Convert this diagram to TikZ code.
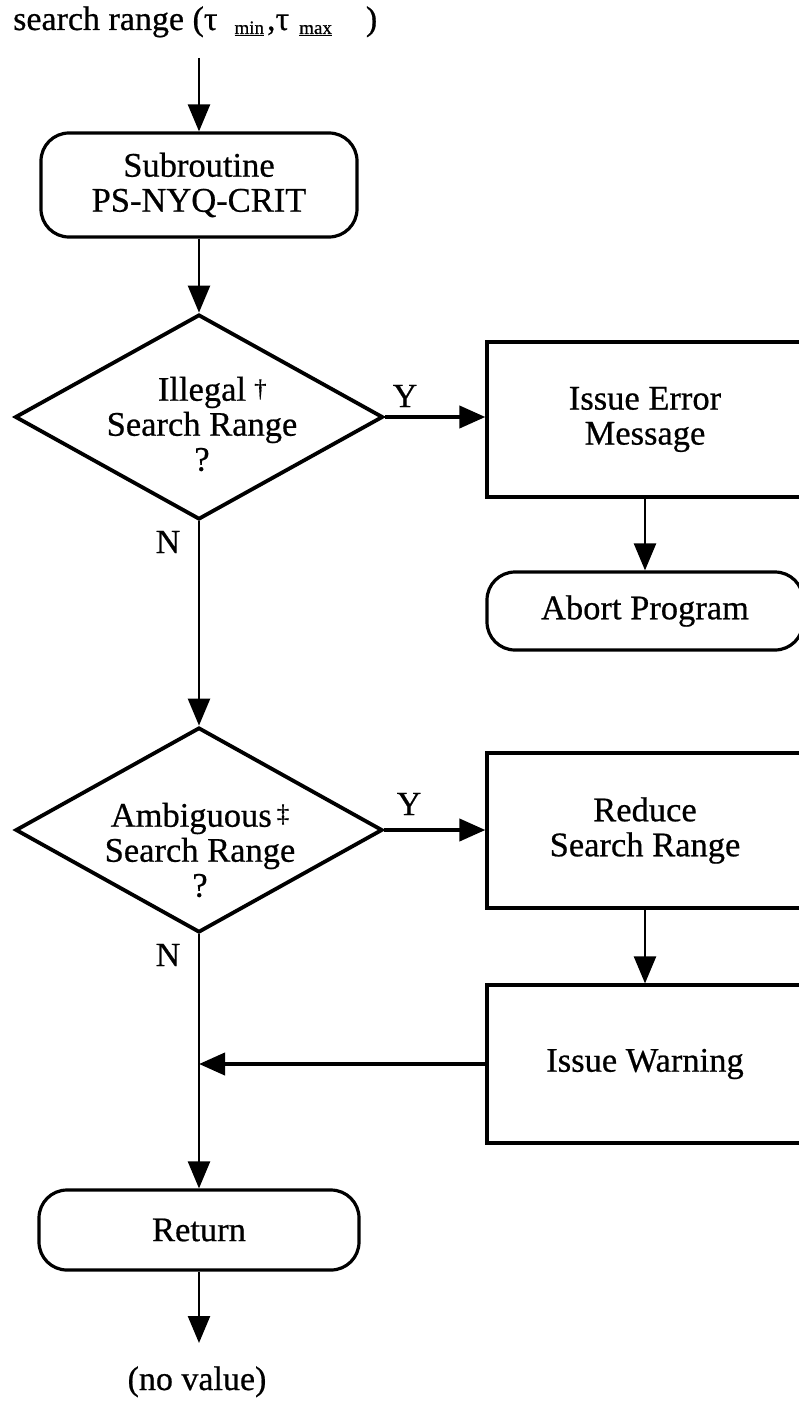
\documentclass[tikz,border=0pt]{standalone}
\usepackage{fontspec}
\setmainfont[FakeBold=0.6]{Liberation Serif}
\usetikzlibrary{shapes.geometric,arrows.meta}
\newcommand{\subtx}[1]{\raisebox{-4pt}{\fontsize{19}{19}\selectfont\underline{#1}}}
\tikzset{
  txt/.style={font=\fontsize{34.5}{35}\selectfont, align=center, inner sep=0pt},
  procbox/.style={txt, draw, line width=3.2pt, minimum width=316pt},
  termbox/.style={txt, draw, line width=3.2pt, rounded corners=28pt},
  decbox/.style={draw, diamond, line width=3.8pt, inner sep=0pt, minimum width=368pt, minimum height=205pt},
  flow/.style={line width=2.4pt, -{Triangle[length=27pt,width=22pt]}},
  yflow/.style={line width=4pt, -{Triangle[length=26pt,width=22pt]}},
  lbl/.style={font=\fontsize{34}{35}\selectfont, inner sep=0pt}
}
\begin{document}
\begin{tikzpicture}[x=1pt,y=-1pt]
\useasboundingbox (0,0) rectangle (798,1405);

% title
\node[lbl, anchor=base west] (title) at (13,30)
  {search range (τ\hspace{17pt}\subtx{min}\hspace{3pt},τ\hspace{10pt}\subtx{max}\hspace{34pt})};
\coordinate (t0) at (199,58);

% main column
\node[termbox, minimum width=316pt, minimum height=104pt] (sub) at (199,185) {Subroutine\\PS-NYQ-CRIT};
\node[decbox] (d1) at (199,417) {};
\node[txt] (d1t) at (202,424) {Illegal\rlap{\hspace{8pt}\raisebox{4pt}{\fontsize{25}{25}\selectfont †}}\\Search Range\\?};
\node[decbox, minimum width=367pt] (d2) at (199,830) {};
\node[txt] (d2t) at (200,850) {Ambiguous\hspace{5pt}\raisebox{5pt}{\fontsize{25}{25}\selectfont ‡}\\Search Range\\?};
\node[termbox, minimum width=320pt, minimum height=80pt] (ret) at (199,1230) {Return};
\coordinate (endpt) at (199,1343);
\node[lbl, anchor=base] (nv) at (197,1390) {(no value)};

% right column
\node[procbox, minimum height=155pt] (err) at (645,419.5) {Issue Error\\Message};
\node[termbox, minimum width=316pt, minimum height=78pt] (abort) at (645,611) {Abort Program};
\node[procbox, minimum height=155pt] (red) at (645,830.5) {Reduce\\Search Range};
\node[procbox, minimum height=158pt] (warn) at (645,1064) {Issue Warning};

% labels
\node[lbl] (y1) at (405,396) {Y};
\node[lbl] (y2) at (409,804) {Y};
\node[lbl] (n1) at (168,542) {N};
\node[lbl] (n2) at (168,955) {N};

% connectors
\draw[flow] (t0) -- (sub.north);
\draw[flow] (sub.south) -- (d1.north);
\draw[flow] (d1.south) -- (d2.north);
\draw[flow] (d2.south) -- (ret.north);
\draw[flow] (ret.south) -- (endpt);
\draw[yflow] (d1.east) -- (d1.east -| err.west);
\draw[yflow] (d2.east) -- (d2.east -| red.west);
\draw[flow] (err.south) -- (abort.north);
\draw[flow] (red.south) -- (warn.north);
\draw[yflow] (warn.west) -- (warn.west -| d2.south);
\end{tikzpicture}
\end{document}
